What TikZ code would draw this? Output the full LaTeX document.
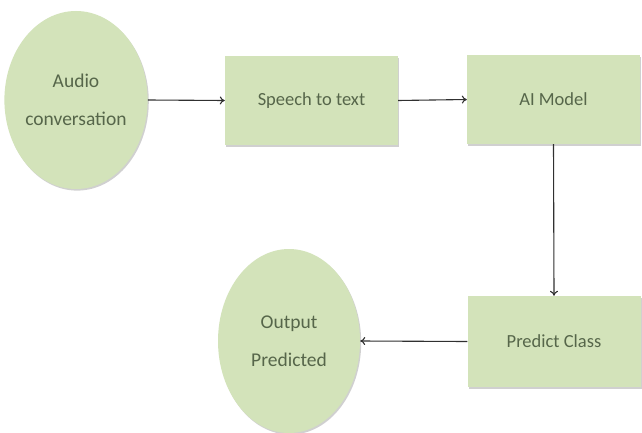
\documentclass[tikz,border=0pt]{standalone}
\usepackage{fontspec}
\setmainfont{Carlito}
\usetikzlibrary{shapes.geometric,arrows.meta,shadows}
\definecolor{boxfill}{HTML}{D3E3BA}
\definecolor{boxtext}{HTML}{56664A}
\definecolor{linegray}{HTML}{303030}
\tikzset{
  softshadow/.style={drop shadow={shadow xshift=1.2pt,shadow yshift=-1.6pt,opacity=0.3,fill=black!60}},
  stagebox/.style={rectangle,draw=none,fill=boxfill,softshadow,
    minimum width=173pt,minimum height=89pt,inner sep=0pt,
    text=boxtext,font=\fontsize{18.5}{22}\selectfont},
  endpoint/.style={ellipse,draw=none,fill=boxfill,softshadow,inner sep=0pt,
    text=boxtext,align=center,font=\fontsize{19.5}{38}\selectfont},
  flow/.style={draw=linegray,line width=1.1pt,-{To[length=5pt,width=8pt]}},
}
\begin{document}
\begin{tikzpicture}[x=1pt,y=-1pt]
  \fill[white] (0,0) rectangle (642,433);
  \useasboundingbox (0,0) rectangle (642,433);

  % input and output stages
  \node[endpoint,minimum width=142pt,minimum height=178pt] (audio) at (76,100) {Audio\\conversation};
  \node[endpoint,minimum width=142pt,minimum height=184pt] (output) at (289,341) {Output\\Predicted};

  % processing steps
  \node[stagebox] (speech) at (311.5,100.5) {Speech to text};
  \node[stagebox] (model) at (553.5,99.5) {AI Model};
  \node[stagebox,minimum height=91pt] (predict) at (554,341.5) {Predict Class};

  % connectors
  \draw[flow] (audio.east) -- (speech.west);
  \draw[flow] (speech.east) -- (model.west);
  \draw[flow] (model.south) -- (predict.north);
  \draw[flow] (predict.west) -- (output.east);
\end{tikzpicture}
\end{document}
